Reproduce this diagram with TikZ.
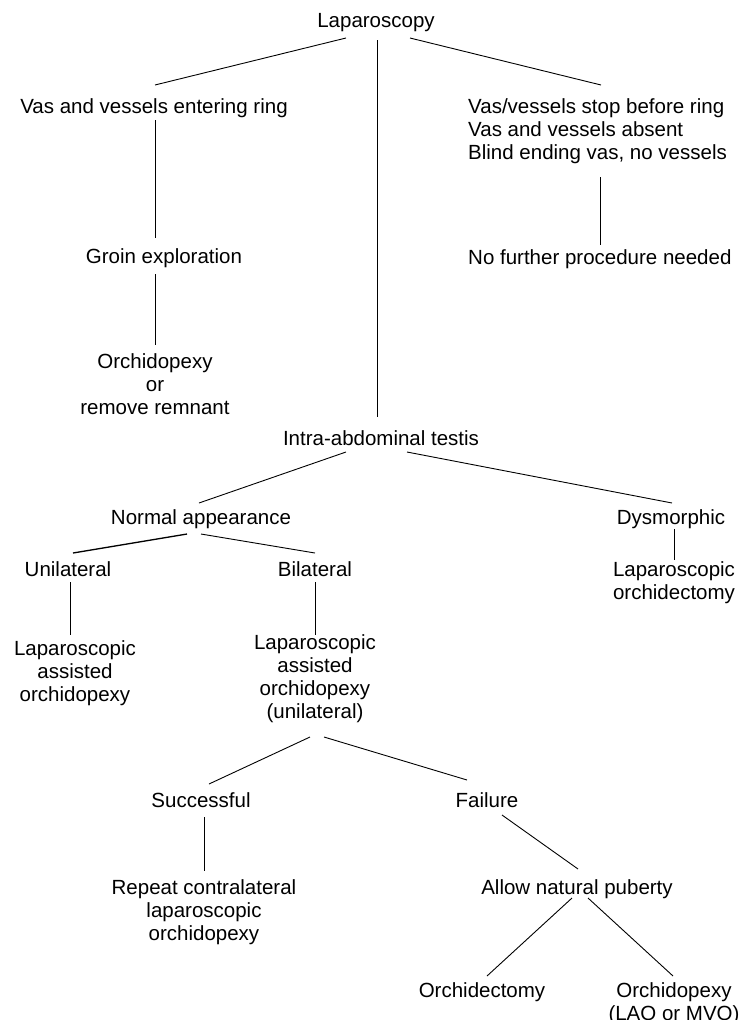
\documentclass[tikz,border=0pt]{standalone}
\usepackage{fontspec}
\setmainfont{Liberation Sans}
\usetikzlibrary{calc}
\begin{document}
\begin{tikzpicture}[x=1pt,y=-1pt,
  lbl/.style={inner sep=0pt, anchor=base, align=center, font=\fontsize{20.5}{23}\selectfont},
  lbll/.style={inner sep=0pt, anchor=base west, align=left, font=\fontsize{20.5}{23}\selectfont},
  conn/.style={line width=0.9pt, black}]
\useasboundingbox (0,0) rectangle (741,1020);
\node[lbl] (lap) at (376,27) {Laparoscopy};
\node[lbl] (vas) at (154,113) {Vas and vessels entering ring};
\node[lbll] (rb) at (468,159) {Vas/vessels stop before ring\\Vas and vessels absent\\Blind ending vas, no vessels};
\node[lbl] (groin) at (164,263) {Groin exploration};
\node[lbll] (nf) at (468,264) {No further procedure needed};
\node[lbl] (orch) at (155,414) {Orchidopexy\\or\\remove remnant};
\node[lbl] (iat) at (381,445) {Intra-abdominal testis};
\node[lbl] (na) at (201,524) {Normal appearance};
\node[lbl] (dys) at (671,524) {Dysmorphic};
\node[lbl] (lo) at (674,599) {Laparoscopic\\orchidectomy};
\node[lbl] (uni) at (68,576) {Unilateral};
\node[lbl] (bil) at (315,576) {Bilateral};
\node[lbl] (lao1) at (75,701) {Laparoscopic\\assisted\\orchidopexy};
\node[lbl] (lao2) at (315,718) {Laparoscopic\\assisted\\orchidopexy\\(unilateral)};
\node[lbl] (succ) at (201,807) {Successful};
\node[lbl] (fail) at (487,807) {Failure};
\node[lbl] (rep) at (204,940) {Repeat contralateral\\laparoscopic\\orchidopexy};
\node[lbl] (anp) at (577,894) {Allow natural puberty};
\node[lbl] (oct) at (482,997) {Orchidectomy};
\node[lbl] (opx) at (674,1020) {Orchidopexy\\(LAO or MVO)};

\draw[conn] ($(lap.base)+(-30,11)$) -- ($(vas.base)+(1,-28)$);
\draw[conn] ($(lap.base)+(1,13)$) -- ($(iat.base)+(-4,-28)$);
\draw[conn] ($(lap.base)+(34,11)$) -- ($(rb.base west)+(133,-74)$);
\draw[conn] ($(vas.base)+(1,7)$) -- ($(groin.base)+(-9,-25)$);
\draw[conn] ($(rb.base west)+(132,18)$) -- ($(nf.base west)+(132,-19)$);
\draw[conn] ($(groin.base)+(-9,11)$) -- ($(orch.base)+(0,-69)$);
\draw[conn] ($(iat.base)+(-35,7)$) -- ($(na.base)+(-2,-21)$);
\draw[conn] ($(iat.base)+(26,7)$) -- ($(dys.base)+(1,-21)$);
\draw[conn] ($(dys.base)+(3,5)$) -- ($(lo.base)+(0,-39)$);
\draw[conn, line width=1.3pt] ($(na.base)+(-14,10)$) -- ($(uni.base)+(5,-23)$);
\draw[conn] ($(na.base)+(0,10)$) -- ($(bil.base)+(0,-23)$);
\draw[conn] ($(uni.base)+(2,6)$) -- ($(lao1.base)+(-5,-66)$);
\draw[conn] ($(bil.base)+(0,6)$) -- ($(lao2.base)+(0,-83)$);
\draw[conn] ($(lao2.base)+(-5,19)$) -- ($(succ.base)+(8,-23)$);
\draw[conn] ($(lao2.base)+(9,19)$) -- ($(fail.base)+(-20,-27)$);
\draw[conn] ($(succ.base)+(3,10)$) -- ($(rep.base)+(0,-69)$);
\draw[conn] ($(fail.base)+(15,8)$) -- ($(anp.base)+(1,-25)$);
\draw[conn] ($(anp.base)+(-5,4)$) -- ($(oct.base)+(5,-21)$);
\draw[conn] ($(anp.base)+(11,4)$) -- ($(opx.base)+(-1,-44)$);
\end{tikzpicture}
\end{document}
